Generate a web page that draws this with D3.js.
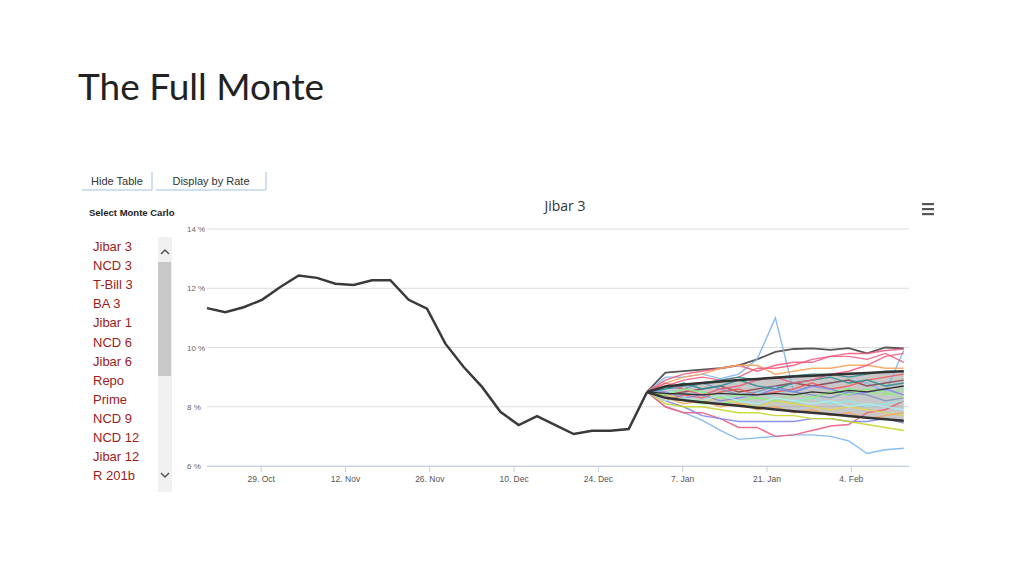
<!DOCTYPE html>
<html><head><meta charset="utf-8">
<script src="https://cdn.jsdelivr.net/npm/d3@7"></script>
<style>body{margin:0;background:#fff;}</style></head>
<body><svg id="c" width="1024" height="576"></svg>
<script>
const menuItems=["Jibar 3","NCD 3","T-Bill 3","BA 3","Jibar 1","NCD 6","Jibar 6","Repo","Prime","NCD 9","NCD 12","Jibar 12","R 201b"];
const yTicks=[6,8,10,12,14];
const xTickLabels=["29. Oct","12. Nov","26. Nov","10. Dec","24. Dec","7. Jan","21. Jan","4. Feb"];
const xTickDates=["2015-10-29","2015-11-12","2015-11-26","2015-12-10","2015-12-24","2016-01-07","2016-01-21","2016-02-04"];
const histStart="2015-10-20";
const history=[11.33,11.19,11.36,11.61,12.04,12.43,12.35,12.15,12.11,12.27,12.27,11.61,11.31,10.13,9.34,8.67,7.83,7.38,7.68,7.38,7.08,7.19,7.19,7.25,8.5];
const bandUpper=[8.5,8.68,8.75,8.8,8.85,8.9,8.94,8.98,9.02,9.05,9.08,9.11,9.14,9.17,9.2];
const bandLower=[8.5,8.3,8.22,8.15,8.09,8.03,7.97,7.91,7.85,7.8,7.75,7.69,7.63,7.58,7.53];
const bandMid=[8.5,8.45,8.43,8.4,8.45,8.42,8.4,8.45,8.4,8.5,8.45,8.55,8.5,8.6,8.7];
const simColors=["#444444","#7cb5ec","#7cb5ec","#f15c80","#f15c80","#f7a35c","#8085e9","#c5d62a","#f15c80","#2b908f","#90ed7d","#e4d354","#91e8e1","#8d4653","#f45b5b","#7798bf","#f7a35c","#2b908f","#8085e9","#f15c80","#90ed7d","#aaeeee"];
const simPaths=[
[8.5,9.15,9.2,9.25,9.3,9.4,9.6,9.85,9.95,9.97,9.92,9.98,9.8,10.0,9.97],
[8.5,9.0,9.0,9.1,8.95,9.1,9.6,11.0,8.5,8.7,8.8,8.9,8.8,8.5,9.9],
[8.5,8.0,7.8,7.55,7.2,6.9,6.95,7.0,7.05,7.05,7.0,6.85,6.42,6.55,6.6],
[8.5,8.0,7.8,7.8,7.6,7.3,7.3,7.0,7.05,7.2,7.35,7.4,7.8,7.9,8.2],
[8.5,8.9,9.1,9.2,9.3,9.4,9.2,9.4,9.5,9.5,9.7,9.8,9.8,9.9,9.95],
[8.5,8.8,9.0,9.1,9.3,9.4,9.4,9.1,9.2,9.3,9.3,9.4,9.4,9.3,9.3],
[8.5,8.2,8.0,7.7,7.6,7.5,7.5,7.5,7.5,7.6,7.6,7.5,7.5,7.6,7.45],
[8.5,8.1,8.0,8.0,7.9,7.8,7.8,7.7,7.7,7.6,7.6,7.5,7.4,7.3,7.2],
[8.5,8.7,8.9,9.0,8.9,9.0,9.3,9.3,9.4,9.6,9.7,9.7,9.6,9.8,9.5],
[8.5,8.6,8.7,8.8,8.9,9.0,8.9,9.0,9.05,9.1,9.1,9.0,9.1,9.2,9.2],
[8.5,8.3,8.2,8.1,8.1,8.2,8.3,8.2,8.1,8.3,8.5,8.6,8.5,8.4,8.6],
[8.5,8.4,8.3,8.2,8.3,8.1,8.0,8.2,8.1,8.0,7.9,8.0,7.9,7.8,7.7],
[8.5,8.6,8.4,8.5,8.3,8.4,8.5,8.3,8.2,8.3,8.1,8.2,8.0,8.1,8.2],
[8.5,8.4,8.5,8.6,8.7,8.5,8.6,8.7,8.8,8.7,8.8,8.9,8.7,8.8,8.9],
[8.5,8.2,8.4,8.3,8.5,8.6,8.4,8.5,8.6,8.8,8.6,8.7,8.9,9.0,9.1],
[8.5,8.7,8.6,8.8,8.6,8.4,8.5,8.7,8.5,8.4,8.3,8.5,8.4,8.2,8.3],
[8.5,8.3,8.1,8.2,8.0,8.1,7.9,8.0,7.8,7.9,7.7,7.8,7.6,7.7,7.8],
[8.5,8.6,8.8,8.6,8.7,8.9,8.7,8.6,8.8,8.9,9.0,8.8,8.9,8.7,8.8],
[8.5,8.5,8.3,8.4,8.2,8.3,8.4,8.6,8.5,8.7,8.6,8.4,8.5,8.6,8.4],
[8.5,8.8,8.6,8.4,8.6,8.7,8.9,9.0,8.8,8.9,9.1,9.2,9.4,9.7,9.8],
[8.5,8.4,8.6,8.5,8.3,8.4,8.3,8.2,8.4,8.3,8.5,8.4,8.6,8.5,8.3],
[8.5,8.2,8.3,8.2,8.4,8.2,8.1,8.3,8.2,8.1,8.2,8.0,8.1,8.0,7.9]
];

const svg=d3.select("#c");
const parse=d3.utcParse("%Y-%m-%d");
const t0=parse(histStart);
const step=3.045*864e5;
const dateAt=i=>new Date(t0.getTime()+i*step);
const x=d3.scaleUtc().domain([parse("2015-10-20"),new Date(Date.UTC(2016,1,13,14))]).range([207,909]);
const y=d3.scaleLinear().domain([6,14]).range([466,229]);

svg.append("text").attr("x",78).attr("y",100).text("The Full Monte")
 .style("font-family","Lato, 'Open Sans', sans-serif").style("font-size","37px").attr("fill","#222");

[["Hide Table",82,70],["Display by Rate",156,110]].forEach(([t,bx,bw])=>{
 svg.append("rect").attr("x",bx).attr("y",172).attr("width",bw).attr("height",18).attr("fill","#fff");
 svg.append("line").attr("x1",bx).attr("x2",bx+bw).attr("y1",190).attr("y2",190).attr("stroke","#cfe0f0").attr("stroke-width",2);
 svg.append("line").attr("x1",bx+bw).attr("x2",bx+bw).attr("y1",172).attr("y2",190).attr("stroke","#cfe0f0").attr("stroke-width",2);
 svg.append("text").attr("x",bx+bw/2).attr("y",185).attr("text-anchor","middle").text(t)
  .style("font-family","Liberation Sans, Arial").style("font-size","11px").attr("fill","#333");
});
svg.append("text").attr("x",89).attr("y",216).text("Select Monte Carlo")
 .style("font-family","Liberation Sans, Arial").style("font-size","9.5px").style("font-weight","bold").attr("fill","#222");
svg.selectAll("text.menu").data(menuItems).join("text").attr("class","menu")
 .attr("x",93).attr("y",(d,i)=>251+i*19.1).text(d=>d)
 .style("font-family","Liberation Sans, Arial").style("font-size","13px").attr("fill","#9b1c1c");
svg.append("rect").attr("x",158).attr("y",237).attr("width",14).attr("height",255).attr("fill","#f1f1f1");
svg.append("rect").attr("x",158).attr("y",262).attr("width",13).attr("height",114).attr("fill","#c8c8c8");
svg.append("path").attr("d","M161,254 L165,250 L169,254").attr("fill","none").attr("stroke","#555").attr("stroke-width",1.5);
svg.append("path").attr("d","M161,473 L165,477 L169,473").attr("fill","none").attr("stroke","#555").attr("stroke-width",1.5);

svg.append("text").attr("x",565).attr("y",211).attr("text-anchor","middle").text("Jibar 3")
 .style("font-family","'Open Sans', sans-serif").style("font-size","14px").attr("fill","#333");
[203,208,213].forEach(yy=>svg.append("rect").attr("x",922).attr("y",yy).attr("width",12).attr("height",2.2).attr("fill","#555"));

svg.selectAll("line.g").data(yTicks).join("line").attr("class","g")
 .attr("x1",207).attr("x2",909).attr("y1",d=>y(d)).attr("y2",d=>y(d)).attr("stroke","#dcdcdc");
svg.selectAll("text.yl").data(yTicks).join("text").attr("class","yl")
 .attr("x",187).attr("y",d=>y(d)+3).text(d=>d+" %")
 .style("font-family","Liberation Sans, Arial").style("font-size","8px").attr("fill","#666");
svg.append("line").attr("x1",207).attr("x2",909).attr("y1",466.5).attr("y2",466.5).attr("stroke","#c0d0e0");
const xt=xTickDates.map(parse);
svg.selectAll("line.xt").data(xt).join("line").attr("class","xt")
 .attr("x1",d=>x(d)).attr("x2",d=>x(d)).attr("y1",467).attr("y2",472).attr("stroke","#c0d0e0");
svg.selectAll("text.xl").data(xt).join("text").attr("class","xl")
 .attr("x",d=>x(d)).attr("y",482).attr("text-anchor","middle").text((d,i)=>xTickLabels[i])
 .style("font-family","Liberation Sans, Arial").style("font-size","8.5px").attr("fill","#555");

const off=history.length-1;
const line=d3.line().x(d=>x(dateAt(d[0]))).y(d=>y(d[1]));
const fc=arr=>arr.map((v,i)=>[off+i,v]);

svg.append("path").datum(bandUpper.map((v,i)=>[off+i,v,bandLower[i]]))
 .attr("d",d3.area().x(d=>x(dateAt(d[0]))).y0(d=>y(d[2])).y1(d=>y(d[1])))
 .attr("fill","#9a9a9a").attr("opacity",0.55);
simPaths.forEach((p,k)=>{
 svg.append("path").attr("d",line(fc(p))).attr("fill","none")
  .attr("stroke",simColors[k]).attr("stroke-width",k==0?1.8:1.4).attr("opacity",0.9);
});
[bandUpper,bandLower].forEach(b=>svg.append("path").attr("d",line(fc(b))).attr("fill","none").attr("stroke","#333").attr("stroke-width",2.5));
svg.append("path").attr("d",line(fc(bandMid))).attr("fill","none").attr("stroke","#333").attr("stroke-width",1.3);
svg.append("path").attr("d",line(history.map((v,i)=>[i,v]))).attr("fill","none").attr("stroke","#3a3a3a").attr("stroke-width",2.5);
</script></body></html>
